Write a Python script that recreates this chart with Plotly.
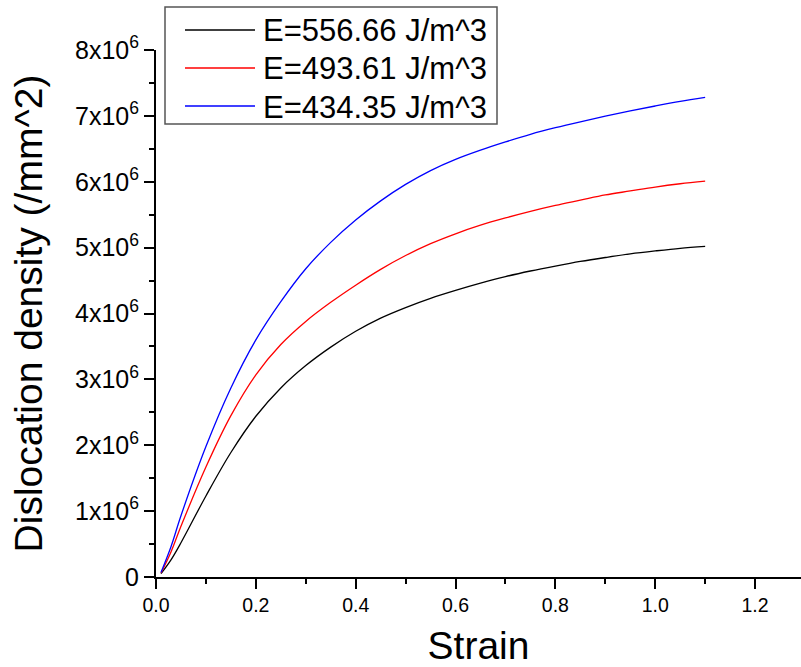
import plotly.graph_objects as go

# Strain values at which the dislocation density was sampled
strain = [0.01, 0.03, 0.05, 0.1, 0.15, 0.2, 0.25, 0.3, 0.35, 0.4, 0.45, 0.5,
          0.55, 0.6, 0.65, 0.7, 0.75, 0.8, 0.85, 0.9, 0.95, 1.0, 1.05, 1.1]

# Dislocation density (in units of 1e6 /mm^2) for each stored energy level
rho_556 = [0.05, 0.26, 0.52, 1.23, 1.89, 2.44, 2.87, 3.21, 3.49, 3.73, 3.93, 4.09,
           4.23, 4.35, 4.46, 4.56, 4.645, 4.72, 4.79, 4.85, 4.905, 4.95, 4.99, 5.02]
rho_493 = [0.06, 0.38, 0.77, 1.67, 2.45, 3.07, 3.53, 3.88, 4.17, 4.43, 4.67, 4.88,
           5.06, 5.21, 5.34, 5.45, 5.55, 5.64, 5.72, 5.80, 5.86, 5.92, 5.97, 6.01]
rho_434 = [0.07, 0.46, 0.93, 1.98, 2.87, 3.60, 4.18, 4.68, 5.08, 5.42, 5.71, 5.96,
           6.17, 6.34, 6.48, 6.605, 6.72, 6.82, 6.91, 6.995, 7.075, 7.15, 7.22, 7.28]

series_names = ["E=556.66 J/m^3", "E=493.61 J/m^3", "E=434.35 J/m^3"]
series_colors = ["#000000", "#ff0000", "#0000ff"]

y_tick_vals = [0, 1, 2, 3, 4, 5, 6, 7, 8]
y_tick_text = ["0"] + [f"{v}x10<sup>6</sup>" for v in y_tick_vals[1:]]

FONT = "Liberation Sans"

fig = go.Figure()
for name, color, rho in zip(series_names, series_colors, [rho_556, rho_493, rho_434]):
    fig.add_trace(go.Scatter(
        x=strain, y=[v * 1e6 for v in rho], mode="lines", name=name,
        line=dict(color=color, width=1.3, shape="spline", smoothing=1.0),
        showlegend=False,
    ))

# Legend drawn as a framed box with line samples and labels
L, T, PW, PH = 156, 50, 645, 527


def px_x(p):
    return (p - L) / PW


def px_y(p):
    return (T + PH - p) / PH


shapes = [dict(type="rect", xref="paper", yref="paper",
               x0=px_x(165), x1=px_x(497), y0=px_y(124), y1=px_y(7),
               line=dict(color="#555555", width=1.5), fillcolor="white", layer="above")]
annotations = []
for i, (name, color) in enumerate(zip(series_names, series_colors)):
    yy = 30 + i * 38
    shapes.append(dict(type="line", xref="paper", yref="paper",
                       x0=px_x(185), x1=px_x(255), y0=px_y(yy), y1=px_y(yy),
                       line=dict(color=color, width=1.3), layer="above"))
    annotations.append(dict(text=name, xref="paper", yref="paper",
                            x=px_x(261), y=px_y(yy + 1), xanchor="left", yanchor="middle",
                            showarrow=False, font=dict(family=FONT, size=31, color="black")))

fig.update_layout(
    width=801, height=667,
    margin=dict(l=L, r=0, t=T, b=667 - T - PH),
    paper_bgcolor="white", plot_bgcolor="white",
    font=dict(family=FONT, color="black"),
    shapes=shapes, annotations=annotations,
    xaxis=dict(
        range=[0, 1.292], tickmode="linear", tick0=0, dtick=0.2, tickformat=".1f",
        showline=True, linecolor="black", linewidth=2, showgrid=False, zeroline=False,
        ticks="outside", ticklen=10, tickwidth=2, tickcolor="black",
        minor=dict(ticks="outside", ticklen=5, tickwidth=2, dtick=0.1, tickcolor="black"),
        tickfont=dict(size=19.5, family=FONT),
        title=dict(text="Strain", font=dict(size=39, family=FONT), standoff=22),
    ),
    yaxis=dict(
        range=[0, 8e6], tickvals=[v * 1e6 for v in y_tick_vals], ticktext=y_tick_text,
        showline=True, linecolor="black", linewidth=2, showgrid=False, zeroline=False,
        ticks="outside", ticklen=10, tickwidth=2, tickcolor="black",
        minor=dict(ticks="outside", ticklen=5, tickwidth=2, dtick=0.5e6, tickcolor="black"),
        tickfont=dict(size=25, family=FONT),
        title=dict(text="Dislocation density (/mm^2)", font=dict(size=39, family=FONT), standoff=20),
    ),
)

fig.write_html("out.html")
